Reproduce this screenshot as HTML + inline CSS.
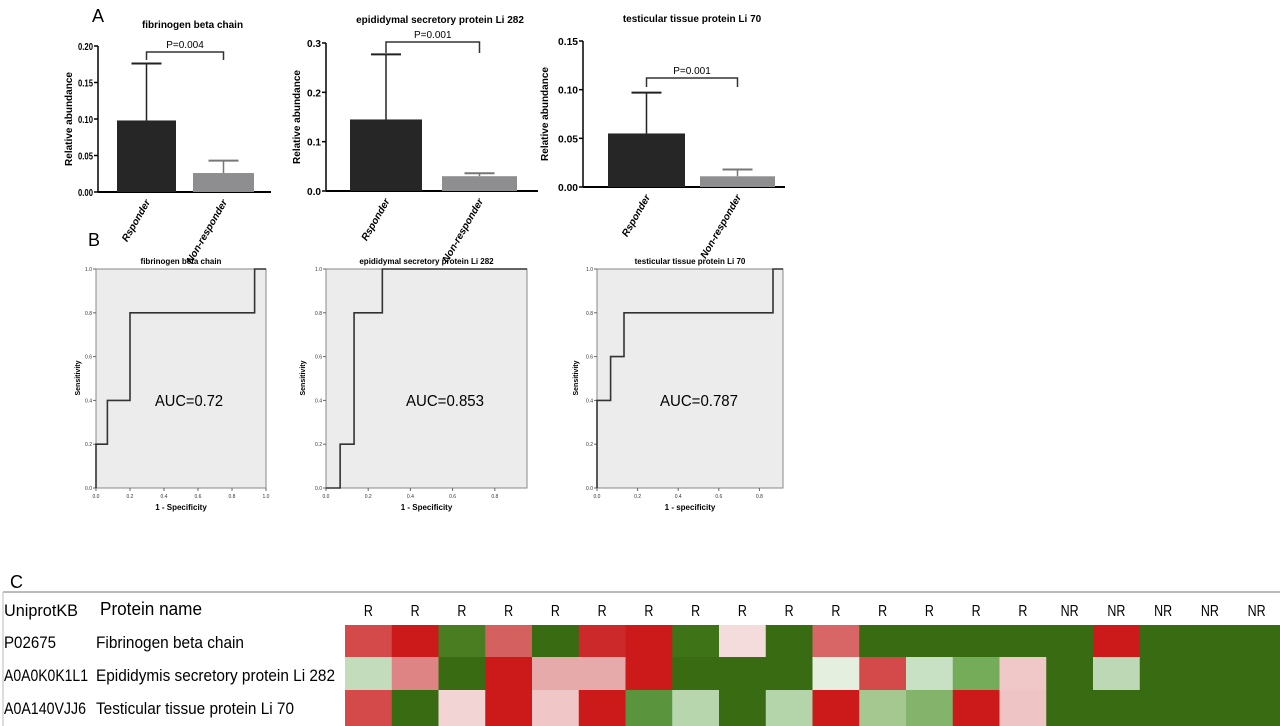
<!DOCTYPE html>
<html><head><meta charset="utf-8"><style>
body{margin:0;background:#fff;}
svg{display:block;font-family:"Liberation Sans",Arial,sans-serif;}
</style></head><body>
<svg id="fig" width="1280" height="726" viewBox="0 0 1280 726">
<text x="92" y="22" font-size="18">A</text>
<text x="88" y="246" font-size="18">B</text>
<text x="10" y="588" font-size="18">C</text>
<g id="bars"></g><g id="rocs"></g><g id="heat"></g>
</svg>
<script>
const NS="http://www.w3.org/2000/svg";
function mk(tag,attrs,parent,txt){const e=document.createElementNS(NS,tag);for(const k in attrs)e.setAttribute(k,attrs[k]);if(txt!==undefined)e.textContent=txt;parent.appendChild(e);return e;}

// ---------- Bar chart data ----------
const barTitles=["fibrinogen beta chain","epididymal secretory protein Li 282","testicular tissue protein Li 70"];
const barCategories=["Rsponder","Non-responder"];
const barMeans=[[0.098,0.026],[0.145,0.030],[0.055,0.011]];
const barErrors=[[0.176,0.043],[0.277,0.036],[0.097,0.018]];
const barYMax=[0.20,0.3,0.15];
const barTicks=[["0.00","0.05","0.10","0.15","0.20"],["0.0","0.1","0.2","0.3"],["0.00","0.05","0.10","0.15"]];
const barPValues=["P=0.004","P=0.001","P=0.001"];
const barLayout=[{x0:98,x1:271,y0:192,y1:46,bars:[[117,176],[193,254]],by:52,bd:60,ty:28,yl:72,tw:15},
                 {x0:326,x1:538,y0:191,y1:43,bars:[[350,422],[442,517]],by:42,bd:53,ty:23,yl:300,tw:14},
                 {x0:583,x1:785,y0:187,y1:41,bars:[[608,685],[700,775]],by:78,bd:87,ty:22,yl:548,tw:20}];
const gB=document.getElementById('bars');
barTitles.forEach((t,i)=>{
  const L=barLayout[i];const g=mk('g',{},gB);
  
  
  const ys=v=>L.y0-(v/barYMax[i])*(L.y0-L.y1);
  const tt=mk('text',{x:(L.x0+L.x1)/2+8,y:L.ty,'font-size':10,'font-weight':'bold','text-anchor':'middle'},g,t);
  
  
  mk('line',{x1:L.x0,y1:L.y0,x2:L.x0,y2:L.y1,stroke:'#000','stroke-width':1.5},g);
  mk('line',{x1:L.x0,y1:L.y0,x2:L.x1,y2:L.y0,stroke:'#000','stroke-width':2},g);
  barTicks[i].forEach(tk=>{const y=ys(parseFloat(tk));
    mk('line',{x1:L.x0-4,y1:y,x2:L.x0,y2:y,stroke:'#000','stroke-width':1.5},g);
    const tl=mk('text',{x:L.x0-5,y:y+4,'font-size':10,'font-weight':'bold','text-anchor':'end',textLength:L.tw,lengthAdjust:'spacingAndGlyphs'},g,tk);
    
    });
  const yl=mk('text',{x:L.yl,y:(L.y0+L.y1)/2,'font-size':10,'font-weight':'bold','text-anchor':'middle',transform:`rotate(-90 ${L.yl} ${(L.y0+L.y1)/2})`},g,'Relative abundance');
  
  
  barCategories.forEach((c,j)=>{
    const [bx0,bx1]=L.bars[j];const cx=(bx0+bx1)/2;
    const ye=ys(barErrors[i][j]);const ym=ys(barMeans[i][j]);
    mk('line',{x1:cx,y1:ym,x2:cx,y2:ye,stroke:j?'#777':'#222','stroke-width':1.5},g);
    mk('line',{x1:cx-15,y1:ye,x2:cx+15,y2:ye,stroke:j?'#777':'#222','stroke-width':2},g);
    const r=mk('rect',{x:bx0,y:ym,width:bx1-bx0,height:L.y0-ym,fill:j?'#8e8e90':'#262626'},g);
    
    
    const lx=cx+4,ly=L.y0+10;
    const xl=mk('text',{x:lx,y:ly,'font-size':10,'font-weight':'bold','font-style':'italic','text-anchor':'end',transform:`rotate(-60 ${lx} ${ly})`},g,c);
    
    
  });
  const c0=(L.bars[0][0]+L.bars[0][1])/2,c1=(L.bars[1][0]+L.bars[1][1])/2;
  mk('polyline',{points:`${c0},${L.bd} ${c0},${L.by} ${c1},${L.by} ${c1},${L.bd}`,fill:'none',stroke:'#333','stroke-width':1.5},g);
  const pv=mk('text',{x:(c0+c1)/2,y:L.by-4,'font-size':10,'text-anchor':'middle'},g,barPValues[i]);
  
  
});

// ---------- ROC data ----------
const rocTitles=["fibrinogen beta chain","epididymal secretory protein Li 282","testicular tissue protein Li 70"];
const rocAUC=["AUC=0.72","AUC=0.853","AUC=0.787"];
const rocFPR=[[0,0,0.067,0.067,0.2,0.2,0.933,0.933,1],[0,0.067,0.067,0.133,0.133,0.267,0.267,1],[0,0,0.067,0.067,0.133,0.133,0.867,0.867,1]];
const rocTPR=[[0,0.2,0.2,0.4,0.4,0.8,0.8,1,1],[0,0,0.2,0.2,0.8,0.8,1,1],[0,0.4,0.4,0.6,0.6,0.8,0.8,1,1]];
const rocXTicks=[["0.0","0.2","0.4","0.6","0.8","1.0"],["0.0","0.2","0.4","0.6","0.8"],["0.0","0.2","0.4","0.6","0.8"]];
const rocYTicks=["0.0","0.2","0.4","0.6","0.8","1.0"];
const rocXLabels=["1 - Specificity","1 - Specificity","1 - specificity"];
const rocLayout=[{x0:96,x1full:266,clip:266,sx:80},{x0:326,x1full:537,clip:527,sx:305},{x0:597,x1full:800,clip:783,sx:578}];
const RY0=488,RY1=269;
const gR=document.getElementById('rocs');
rocTitles.forEach((t,i)=>{
  const L=rocLayout[i];const g=mk('g',{},gR);
  
  
  const xs=v=>L.x0+v*(L.x1full-L.x0), ys=v=>RY0-v*(RY0-RY1);
  mk('rect',{x:L.x0,y:RY1,width:L.clip-L.x0,height:RY0-RY1,fill:'#ececec',stroke:'#888','stroke-width':1},g);
  const tt=mk('text',{x:(L.x0+L.clip)/2,y:264,'font-size':8,'font-weight':'bold','text-anchor':'middle'},g,t);
  
  
  rocYTicks.forEach(tk=>{const y=ys(parseFloat(tk));
    mk('line',{x1:L.x0-3,y1:y,x2:L.x0,y2:y,stroke:'#666'},g);
    mk('text',{x:L.x0-4,y:y+2,'font-size':5,'text-anchor':'end',fill:'#333'},g,tk);});
  rocXTicks[i].forEach(tk=>{const x=xs(parseFloat(tk));
    mk('line',{x1:x,y1:RY0,x2:x,y2:RY0+3,stroke:'#666'},g);
    mk('text',{x:x,y:RY0+10,'font-size':5,'text-anchor':'middle',fill:'#333'},g,tk);});
  const pts=rocFPR[i].map((f,k)=>`${Math.min(xs(f),L.clip)},${ys(rocTPR[i][k])}`).join(' ');
  const pl=mk('polyline',{points:pts,fill:'none',stroke:'#333','stroke-width':1.6},g);
  
  
  const xl=mk('text',{x:(L.x0+L.clip)/2,y:510,'font-size':8,'font-weight':'bold','text-anchor':'middle'},g,rocXLabels[i]);
  
  
  const sl=mk('text',{x:L.sx,y:378,'font-size':7,'font-weight':'bold','text-anchor':'middle',transform:`rotate(-90 ${L.sx} 378)`},g,'Sensitivity');
  
  
  const au=mk('text',{x:[189,445,699][i],y:406,'font-size':16,'text-anchor':'middle',textLength:[68,78,78][i],lengthAdjust:'spacingAndGlyphs'},g,rocAUC[i]);
  
  
});

// ---------- Heatmap ----------
const heatGroups=["R","R","R","R","R","R","R","R","R","R","R","R","R","R","R","NR","NR","NR","NR","NR"];
const heatIds=["P02675","A0A0K0K1L1","A0A140VJJ6"];
const heatNames=["Fibrinogen beta chain","Epididymis secretory protein Li 282","Testicular tissue protein Li 70"];
const heatColors=[
["#d44a4a","#cc1a1a","#4a7d22","#d56060","#386b12","#cc2a2a","#cc1a1a","#3e7317","#f5dcdc","#386b12","#d86666","#386b12","#386b12","#386b12","#386b12","#386b12","#cc1a1a","#386b12","#386b12","#386b12"],
["#c2dcbc","#df8484","#386b12","#cc1a1a","#e6aaaa","#e6aaaa","#cc1a1a","#386b12","#386b12","#386b12","#e4efe0","#d44a4a","#c8e0c4","#74ac5a","#f1c8c8","#386b12","#bcd8b4","#386b12","#386b12","#386b12"],
["#d44a4a","#386b12","#f3d4d4","#cc1a1a","#f1c6c6","#cc1a1a","#5a943c","#b8d6ae","#386b12","#b4d4aa","#cc1a1a","#a4c890","#84b46c","#cc1a1a","#eec4c4","#386b12","#386b12","#386b12","#386b12","#386b12"]];
const gH=document.getElementById('heat');
const HX0=345,HX1=1280,HY=[625,657,690,726];
mk('line',{x1:3,y1:592,x2:1280,y2:592,stroke:'#bbb','stroke-width':2},gH);
mk('line',{x1:3,y1:592,x2:3,y2:726,stroke:'#bbb','stroke-width':1},gH);
const cw=(HX1-HX0)/heatGroups.length;
const h1=mk('text',{x:4,y:616,'font-size':17,textLength:74,lengthAdjust:'spacingAndGlyphs'},gH,'UniprotKB');


const h2=mk('text',{x:100,y:615,'font-size':18,textLength:102,lengthAdjust:'spacingAndGlyphs'},gH,'Protein name');


heatGroups.forEach((g,j)=>{
  const t=mk('text',{x:HX0+cw*(j+0.5),y:616,'font-size':16,'text-anchor':'middle',textLength:g.length*9,lengthAdjust:'spacingAndGlyphs'},gH,g);
  
  
});
const idW=[52,84,82],nmW=[148,239,198];
heatIds.forEach((id,r)=>{
  const a=mk('text',{x:4,y:[648,681,714][r],'font-size':17,textLength:idW[r],lengthAdjust:'spacingAndGlyphs'},gH,id);
  
  
  const b=mk('text',{x:96,y:[648,681,714][r],'font-size':17,textLength:nmW[r],lengthAdjust:'spacingAndGlyphs'},gH,heatNames[r]);
  
  
  heatColors[r].forEach((c,j)=>{
    const rc=mk('rect',{x:HX0+cw*j,y:HY[r],width:cw+0.5,height:HY[r+1]-HY[r]+0.5,fill:c},gH);
    
    
  });
});
</script>
</body></html>
